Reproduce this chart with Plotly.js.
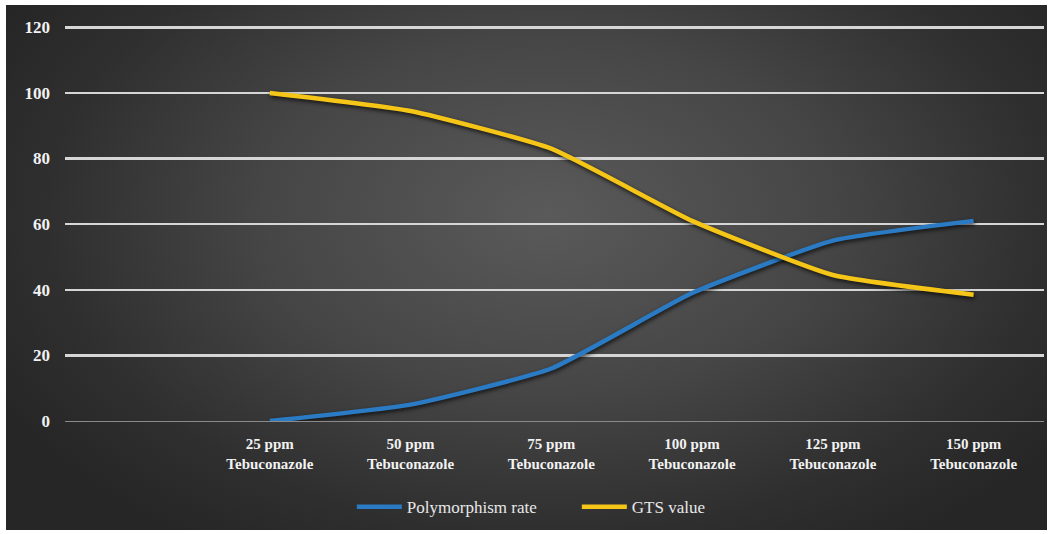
<!DOCTYPE html>
<html>
<head>
<meta charset="utf-8">
<script src="https://cdn.plot.ly/plotly-3.0.1.min.js"></script>
<style>
  html, body { margin: 0; padding: 0; background: #ffffff; }
  #frame {
    position: absolute; left: 6px; top: 5px; width: 1041px; height: 525px;
    background: radial-gradient(ellipse 60% 75% at 52% 40%, #5a5a5a 0%, #464646 45%, #2f2f2f 80%, #262626 100%);
  }
  #chart { position: absolute; left: 0; top: 0; width: 1053px; height: 534px; }
  .scatterlayer .js-line { filter: drop-shadow(1px 2px 2px rgba(0,0,0,0.75)); }
</style>
</head>
<body>
<div id="frame"></div>
<div id="chart"></div>
<script>
const categories = ["", "25 ppm<br>Tebuconazole", "50 ppm<br>Tebuconazole", "75 ppm<br>Tebuconazole",
                    "100 ppm<br>Tebuconazole", "125 ppm<br>Tebuconazole", "150 ppm<br>Tebuconazole"];
const polymorphismRate = [null, 0, 5, 16, 39, 55, 61];
const gtsValue = [null, 100, 94.5, 83, 61, 44.5, 38.5];
const yTicks = [0, 20, 40, 60, 80, 100, 120];

const idx = categories.map((c, i) => i);
const serif = "Times New Roman";

const traces = [
  {
    x: idx, y: polymorphismRate, name: "Polymorphism rate", type: "scatter", mode: "lines",
    line: { color: "#2a7bc4", width: 4.5, shape: "spline", smoothing: 0.45 }
  },
  {
    x: idx, y: gtsValue, name: "GTS value", type: "scatter", mode: "lines",
    line: { color: "#f5c518", width: 4.5, shape: "spline", smoothing: 0.45 }
  }
];

const layout = {
  width: 1053, height: 534,
  margin: { l: 65, r: 9, t: 26, b: 113 },
  paper_bgcolor: "rgba(0,0,0,0)",
  plot_bgcolor: "rgba(0,0,0,0)",
  font: { family: serif, color: "#f2f2f2", size: 14 },
  showlegend: true,
  legend: {
    orientation: "h", x: 0.293, xanchor: "left", y: -0.218, yanchor: "middle",
    font: { family: serif, size: 17, color: "#e8e8e8" },
    bgcolor: "rgba(0,0,0,0)", itemwidth: 45, tracegroupgap: 0,
    entrywidth: 165
  },
  xaxis: {
    range: [-0.455, 6.5],
    tickmode: "array", tickvals: idx, ticktext: categories.map(c => "<b>" + c + "</b>"),
    showgrid: false, zeroline: false, showline: false, ticks: "",
    ticklabelstandoff: 12,
    tickfont: { family: serif, size: 15, color: "#f2f2f2" },
    fixedrange: true
  },
  yaxis: {
    range: [0, 120.4],
    tickmode: "array", tickvals: yTicks, ticktext: yTicks.map(v => "<b>" + v + "</b>"),
    showgrid: true, gridcolor: "#d6d6d6", gridwidth: 2.5,
    zeroline: true, zerolinecolor: "#8a8a8a", zerolinewidth: 1,
    showline: false, ticks: "", ticklabelstandoff: 14,
    tickfont: { family: serif, size: 17, color: "#f2f2f2" },
    fixedrange: true
  }
};

Plotly.newPlot("chart", traces, layout, { displayModeBar: false, staticPlot: true });
</script>
</body>
</html>
